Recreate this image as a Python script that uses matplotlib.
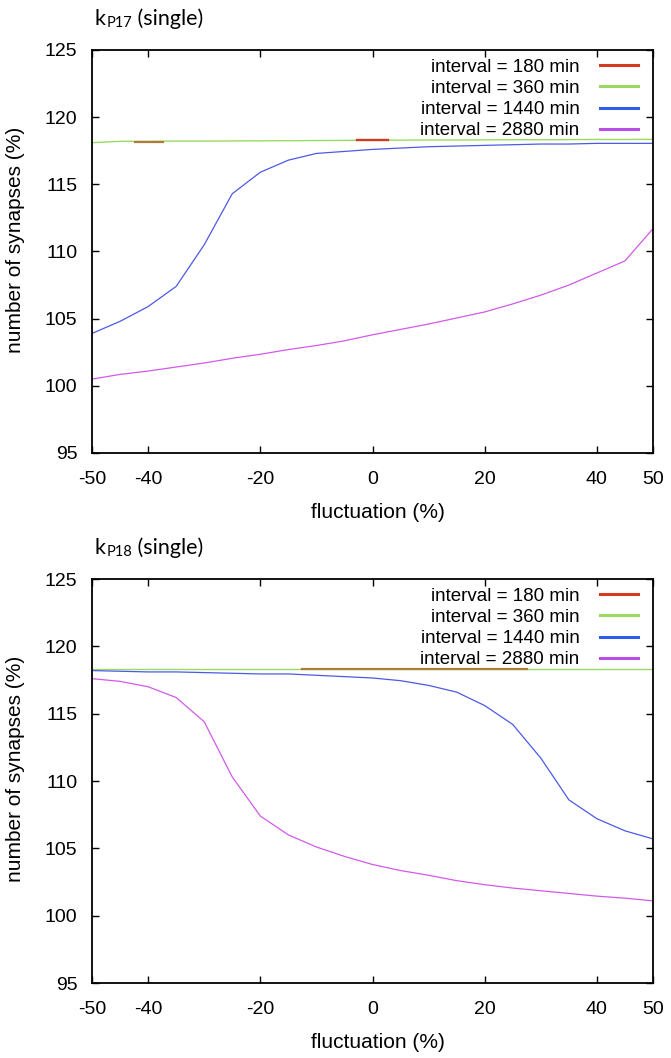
import matplotlib
matplotlib.use("Agg")
import matplotlib.pyplot as plt
import numpy as np

# ---------------- data ----------------
fluct = [-50, -45, -40, -35, -30, -25, -20, -15, -10, -5, 0, 5, 10, 15, 20, 25, 30, 35, 40, 45, 50]

# kP17 panel
p17_360 = [118.1, 118.2, 118.2, 118.22, 118.22, 118.23, 118.24, 118.25, 118.26, 118.27, 118.28,
           118.29, 118.3, 118.3, 118.31, 118.32, 118.32, 118.33, 118.34, 118.34, 118.35]
p17_1440 = [103.9, 104.8, 105.9, 107.4, 110.5, 114.3, 115.9, 116.8, 117.3, 117.45, 117.6,
            117.7, 117.8, 117.85, 117.9, 117.95, 118.0, 118.0, 118.05, 118.05, 118.05]
p17_2880 = [100.5, 100.85, 101.1, 101.4, 101.7, 102.05, 102.35, 102.7, 103.0, 103.35, 103.8,
            104.2, 104.6, 105.05, 105.5, 106.1, 106.75, 107.5, 108.4, 109.3, 111.7]
# interval = 180 min: only visible where it is not hidden under the 360 min curve
p17_180_x = [-42.3, -37.3, np.nan, -2.7, 2.8]
p17_180_y = [118.17, 118.17, np.nan, 118.33, 118.33]

# kP18 panel
p18_360 = [118.3] * 21
p18_1440 = [118.2, 118.15, 118.1, 118.1, 118.05, 118.0, 117.95, 117.95, 117.85, 117.75, 117.65,
            117.45, 117.1, 116.6, 115.6, 114.2, 111.7, 108.6, 107.2, 106.3, 105.7]
p18_2880 = [117.6, 117.4, 117.0, 116.2, 114.4, 110.3, 107.4, 106.0, 105.1, 104.4, 103.8,
            103.35, 103.0, 102.6, 102.3, 102.05, 101.85, 101.65, 101.45, 101.3, 101.1]
p18_180_x = [-12.5, 27.6]
p18_180_y = [118.3, 118.3]

labels = ["interval = 180 min", "interval = 360 min", "interval = 1440 min", "interval = 2880 min"]
xticks = [-50, -40, -20, 0, 20, 40, 50]
yticks = [95, 100, 105, 110, 115, 120, 125]

# ---------------- style ----------------
plt.rcParams['font.family'] = ['Liberation Sans', 'DejaVu Sans']
plt.rcParams['axes.unicode_minus'] = False
C_RED = '#d23a22'
C_GREEN = '#9ada60'
C_BLUE = '#4b5ae6'
C_MAG = '#d25ae8'
C_BROWN = '#ae7c3a'
LEG_COLORS = ['#d23a22', '#9ada60', '#2f5ce8', '#b84ee6']

W, H = 671, 1058
fig = plt.figure(figsize=(W / 100, H / 100), dpi=100)

def make_axes(top_px, bot_px):
    left, right = 92, 653
    return fig.add_axes([left / W, 1 - bot_px / H, (right - left) / W, (bot_px - top_px) / H])

ax1 = make_axes(50, 453)
ax2 = make_axes(579, 983)

def draw_panel(ax, s180x, s180y, s180col, s360, s1440, s2880, sub):
    ax.plot(fluct, s360, color=C_GREEN, lw=1.0, zorder=2)
    ax.plot(s180x, s180y, color=s180col, lw=1.6, zorder=3)
    ax.plot(fluct, s1440, color=C_BLUE, lw=0.9, zorder=2)
    ax.plot(fluct, s2880, color=C_MAG, lw=0.9, zorder=2)
    ax.set_xlim(-50, 50)
    ax.set_ylim(95, 125)
    ax.set_xticks(xticks)
    ax.set_yticks(yticks)
    ax.tick_params(direction='in', length=5, width=1.0, top=True, right=True,
                   labelsize=14)
    ax.tick_params(axis='x', pad=13)
    ax.tick_params(axis='y', pad=10.5)
    for sp in ax.spines.values():
        sp.set_linewidth(1.3)
    ax.set_xlabel('fluctuation (%)', fontsize=15)
    ax.set_ylabel('number of synapses (%)', fontsize=15)
    ax.xaxis.set_label_coords(0.51, -0.123)
    ax.yaxis.set_label_coords(-0.12, 0.53)
    # legend
    handles = [plt.Line2D([], [], color=c, lw=2.2) for c in LEG_COLORS]
    ax.legend(handles, labels, loc='upper right', bbox_to_anchor=(0.988, 1.0),
              borderaxespad=0.05, frameon=False, markerfirst=False, fontsize=13.5,
              handlelength=2.0, handletextpad=1.1, labelspacing=0.22)
    # title  k_P17 (single)
    t1 = ax.text(0.005, 1 + 25 / 403, 'k', transform=ax.transAxes, fontsize=15.5,
                 family='Lato', va='baseline', ha='left')
    t2 = ax.annotate(sub, xy=(1, 0), xycoords=t1, fontsize=10.5, family='Lato',
                     va='bottom', ha='left', xytext=(0.5, -0.5), textcoords='offset points')
    ax.annotate(' (single)', xy=(1, 0), xycoords=(t2, t1), fontsize=15.5, family='Lato',
                va='bottom', ha='left')

draw_panel(ax1, p17_180_x, p17_180_y, C_BROWN, p17_360, p17_1440, p17_2880, 'P17')
draw_panel(ax2, p18_180_x, p18_180_y, C_BROWN, p18_360, p18_1440, p18_2880, 'P18')
# top panel: part of the 180-min line that sits above the 360-min line is red
ax1.plot(p17_180_x[3:], p17_180_y[3:], color=C_RED, lw=1.6, zorder=3)

fig.savefig('out.png', dpi=100)
